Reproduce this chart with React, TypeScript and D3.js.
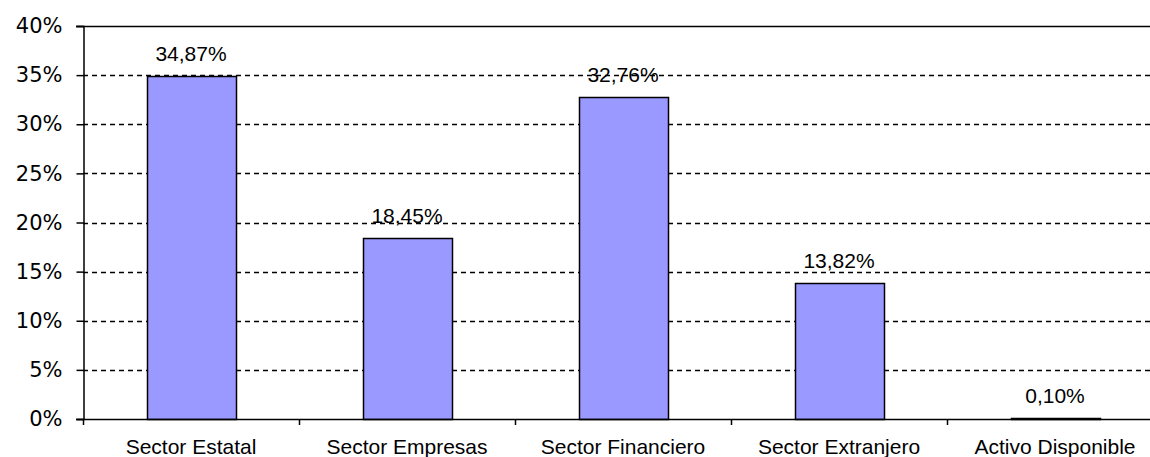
import React, { useRef, useEffect } from 'react';
import * as d3 from 'd3';

const categories = ['Sector Estatal', 'Sector Empresas', 'Sector Financiero', 'Sector Extranjero', 'Activo Disponible'];
const values = [34.87, 18.45, 32.76, 13.82, 0.1];
const valueLabels = ['34,87%', '18,45%', '32,76%', '13,82%', '0,10%'];
const yTicks = [0, 5, 10, 15, 20, 25, 30, 35, 40];

export default function App() {
  const svgRef = useRef<SVGSVGElement | null>(null);

  useEffect(() => {
    if (!svgRef.current) return;
    const svg = d3.select(svgRef.current);
    svg.selectAll('*').remove();

    const width = 1150;
    const height = 457;
    const margin = { top: 26, left: 83, bottom: 38 };
    const plotRight = 1163; // plot runs past the picture edge
    const font = '"Liberation Sans", Arial, sans-serif';

    const x = d3.scaleBand<string>()
      .domain(categories)
      .range([margin.left, plotRight])
      .paddingInner(0.59)
      .paddingOuter(0.295);

    const y = d3.scaleLinear()
      .domain([0, 40])
      .range([height - margin.bottom, margin.top]);

    svg.append('rect')
      .attr('width', width).attr('height', height).attr('fill', '#fff');

    // dashed gridlines
    svg.append('g')
      .selectAll('line')
      .data(yTicks.filter(t => t > 0 && t < 40))
      .enter().append('line')
      .attr('x1', margin.left).attr('x2', plotRight)
      .attr('y1', d => Math.round(y(d)) + 0.5).attr('y2', d => Math.round(y(d)) + 0.5)
      .attr('stroke', '#000')
      .attr('stroke-width', 1.3)
      .attr('stroke-dasharray', '5,4');

    // top frame line
    svg.append('line')
      .attr('x1', margin.left - 7).attr('x2', plotRight)
      .attr('y1', Math.round(y(40)) + 0.5).attr('y2', Math.round(y(40)) + 0.5)
      .attr('stroke', '#000').attr('stroke-width', 1.5);

    // bars
    svg.append('g')
      .selectAll('rect')
      .data(values)
      .enter().append('rect')
      .attr('x', (d, i) => Math.round(x(categories[i])!) + 0.5)
      .attr('width', Math.round(x.bandwidth()))
      .attr('y', d => Math.round(y(d)) + 0.5)
      .attr('height', d => Math.max(0, Math.round(y(0)) - Math.round(y(d))))
      .attr('fill', '#9999ff')
      .attr('stroke', '#000')
      .attr('stroke-width', 1.5);

    // value labels
    svg.append('g')
      .selectAll('text')
      .data(values)
      .enter().append('text')
      .attr('x', (d, i) => x(categories[i])! + x.bandwidth() / 2)
      .attr('y', d => y(d) - 15)
      .attr('text-anchor', 'middle')
      .attr('font-family', font)
      .attr('font-size', '21px')
      .attr('fill', '#000')
      .text((d, i) => valueLabels[i]);

    // y axis
    const yAxis = svg.append('g')
      .attr('transform', `translate(${margin.left + 0.5},0)`)
      .call(d3.axisLeft(y).tickValues(yTicks).tickFormat(d => `${d}%`).tickSize(7).tickPadding(14));
    yAxis.select('.domain').attr('stroke', '#000').attr('stroke-width', 1.5);
    yAxis.selectAll('.tick line').attr('stroke', '#000').attr('stroke-width', 1.5);
    yAxis.selectAll('.tick text')
      .attr('font-family', '"DejaVu Sans", sans-serif')
      .attr('font-size', '21px')
      .attr('fill', '#000');

    // x axis
    const step = x.step();
    const boundaries = d3.range(categories.length + 1).map(i => margin.left + i * step);
    svg.append('line')
      .attr('x1', margin.left - 7).attr('x2', plotRight)
      .attr('y1', Math.round(y(0)) + 0.5).attr('y2', Math.round(y(0)) + 0.5)
      .attr('stroke', '#000').attr('stroke-width', 1.5);
    svg.append('g')
      .selectAll('line')
      .data(boundaries)
      .enter().append('line')
      .attr('x1', d => Math.round(d) + 0.5).attr('x2', d => Math.round(d) + 0.5)
      .attr('y1', y(0)).attr('y2', y(0) + 6)
      .attr('stroke', '#000').attr('stroke-width', 1.5);

    svg.append('g')
      .selectAll('text')
      .data(categories)
      .enter().append('text')
      .attr('x', d => x(d)! + x.bandwidth() / 2)
      .attr('y', 454)
      .attr('text-anchor', 'middle')
      .attr('font-family', font)
      .attr('font-size', '21px')
      .attr('fill', '#000')
      .text(d => d);
  }, []);

  return (
    <svg
      ref={svgRef}
      width={1150}
      height={457}
      style={{ position: 'absolute', left: 0, top: 0, display: 'block' }}
    />
  );
}
